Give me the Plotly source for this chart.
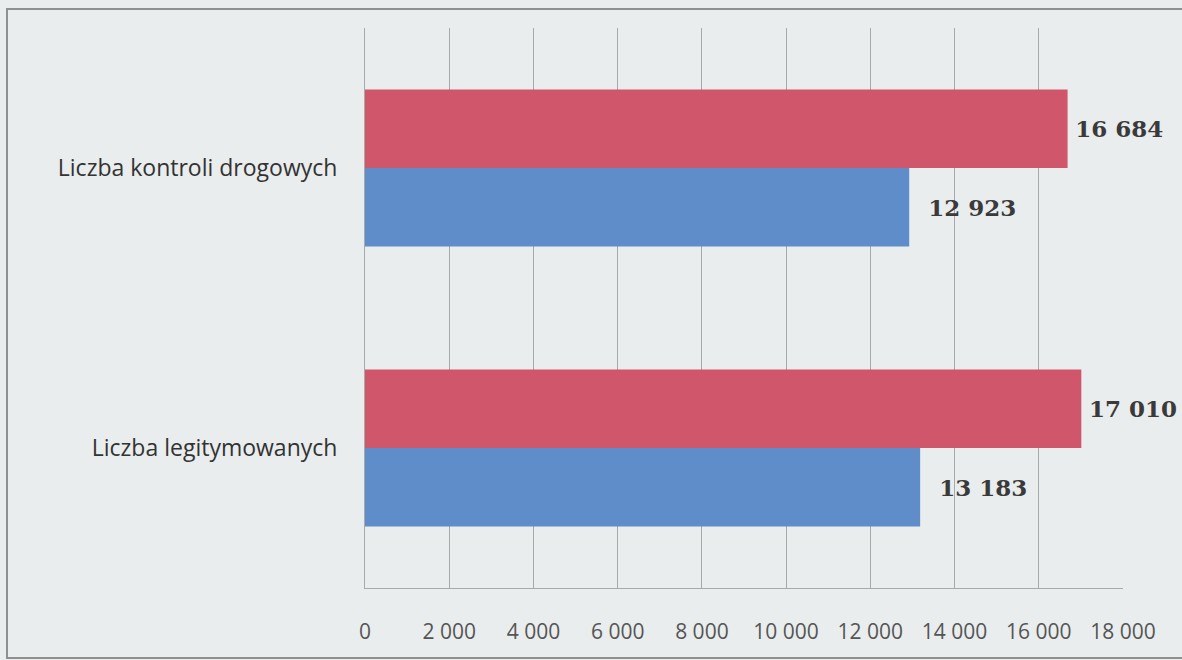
import plotly.graph_objects as go

categories = ["Liczba kontroli drogowych", "Liczba legitymowanych"]
series_red = [16684, 17010]
series_blue = [12923, 13183]
tick_vals = [0, 2000, 4000, 6000, 8000, 10000, 12000, 14000, 16000, 18000]
tick_text = ["0", "2 000", "4 000", "6 000", "8 000", "10 000", "12 000", "14 000", "16 000", "18 000"]

def fmt(v, pad):
    return pad + f"{v:,}".replace(",", " ")

W, H = 1182, 660
L, R, T, B = 365, 59, 28, 72
pw, ph = W - L - R, H - T - B

label_font = dict(family="DejaVu Serif", size=23, color="#3a3a3a", weight=700)

fig = go.Figure()
fig.add_trace(go.Bar(
    y=categories, x=series_red, orientation="h", name="red",
    marker=dict(color="#D0566B", line=dict(width=0)),
    text=[fmt(v, "\u2009") for v in series_red], textposition="outside",
    textfont=label_font, cliponaxis=False,
))
fig.add_trace(go.Bar(
    y=categories, x=series_blue, orientation="h", name="blue",
    marker=dict(color="#5E8DCA", line=dict(width=0)),
    text=[fmt(v, "\u2002\u2009") for v in series_blue], textposition="outside",
    textfont=label_font, cliponaxis=False,
))

fig.update_layout(
    width=W, height=H,
    margin=dict(l=L, r=R, t=T, b=B),
    paper_bgcolor="#E9EDED", plot_bgcolor="#E9EDED",
    barmode="group", bargap=0.44, bargroupgap=0,
    showlegend=False,
    xaxis=dict(
        range=[0, 18000], tickvals=tick_vals, ticktext=tick_text,
        showgrid=True, gridcolor="#A8AAAA", gridwidth=1,
        showline=True, linecolor="#A8AAAA", linewidth=1,
        zeroline=False, ticks="", ticklabelstandoff=25,
        tickfont=dict(family="Open Sans", size=21, color="#555555"),
        fixedrange=True,
    ),
    yaxis=dict(
        autorange="reversed", showgrid=False,
        showline=True, linecolor="#A8AAAA", linewidth=1,
        ticks="", ticklabelstandoff=22,
        tickfont=dict(family="Open Sans", size=23, color="#333333"),
        fixedrange=True,
    ),
    shapes=[dict(
        type="rect", xref="paper", yref="paper",
        x0=(7 - L) / pw, x1=(1195 - L) / pw,
        y0=(H - B - 658) / ph, y1=(H - B - 9) / ph,
        line=dict(color="#8E9090", width=2), fillcolor="rgba(0,0,0,0)", layer="below",
    )],
)

fig.write_html(
    "out.html",
    config={"displayModeBar": False},
    post_script="document.body.style.margin='0';document.body.style.overflow='hidden';",
)
